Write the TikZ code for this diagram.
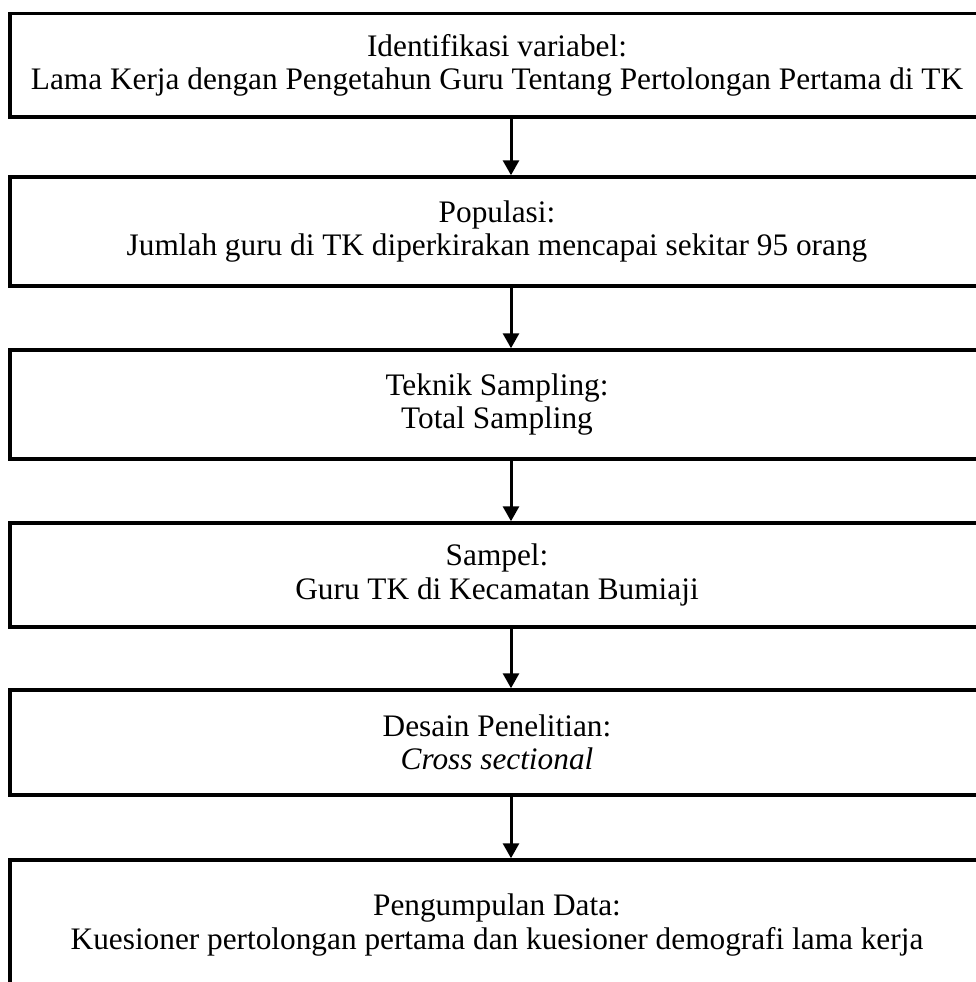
\documentclass[tikz,border=0pt]{standalone}
\usepackage{fontspec}
\setmainfont{Liberation Serif}
\usepackage{tikz}
\usetikzlibrary{arrows.meta}

\tikzset{
  stagebox/.style={draw,rectangle,line width=3.5pt,minimum width=974pt,inner sep=0pt,
    align=center,font=\fontsize{31.3}{33.5}\selectfont},
  flowarrow/.style={line width=3pt,-{Triangle[length=15pt,width=16pt]}}
}

\begin{document}
\begin{tikzpicture}[x=1pt,y=1pt]
\useasboundingbox (0,0) rectangle (975,-982);
\node[stagebox,minimum height=103.5pt](ident)at(497,-65.3){Identifikasi variabel:\\Lama Kerja dengan Pengetahun Guru Tentang Pertolongan Pertama di TK};
\node[stagebox,minimum height=109pt](popul)at(497,-231.5){Populasi:\\Jumlah guru di TK diperkirakan mencapai sekitar 95 orang};
\node[stagebox,minimum height=109pt](teknik)at(497,-404.5){Teknik Sampling:\\Total Sampling};
\node[stagebox,minimum height=104pt](sampel)at(497,-575){Sampel:\\Guru TK di Kecamatan Bumiaji};
\node[stagebox,minimum height=105pt](desain)at(497,-742.5){Desain Penelitian:\\\textit{Cross sectional}};
\node[stagebox,minimum height=130pt](kumpul)at(497,-925){Pengumpulan Data:\\Kuesioner pertolongan pertama dan kuesioner demografi lama kerja};
%arrows
\draw[flowarrow]([xshift=14pt]ident.south)--([xshift=14pt]popul.north);
\draw[flowarrow]([xshift=14pt]popul.south)--([xshift=14pt]teknik.north);
\draw[flowarrow]([xshift=14pt]teknik.south)--([xshift=14pt]sampel.north);
\draw[flowarrow]([xshift=14pt]sampel.south)--([xshift=14pt]desain.north);
\draw[flowarrow]([xshift=14pt]desain.south)--([xshift=14pt]kumpul.north);
\end{tikzpicture}
\end{document}
